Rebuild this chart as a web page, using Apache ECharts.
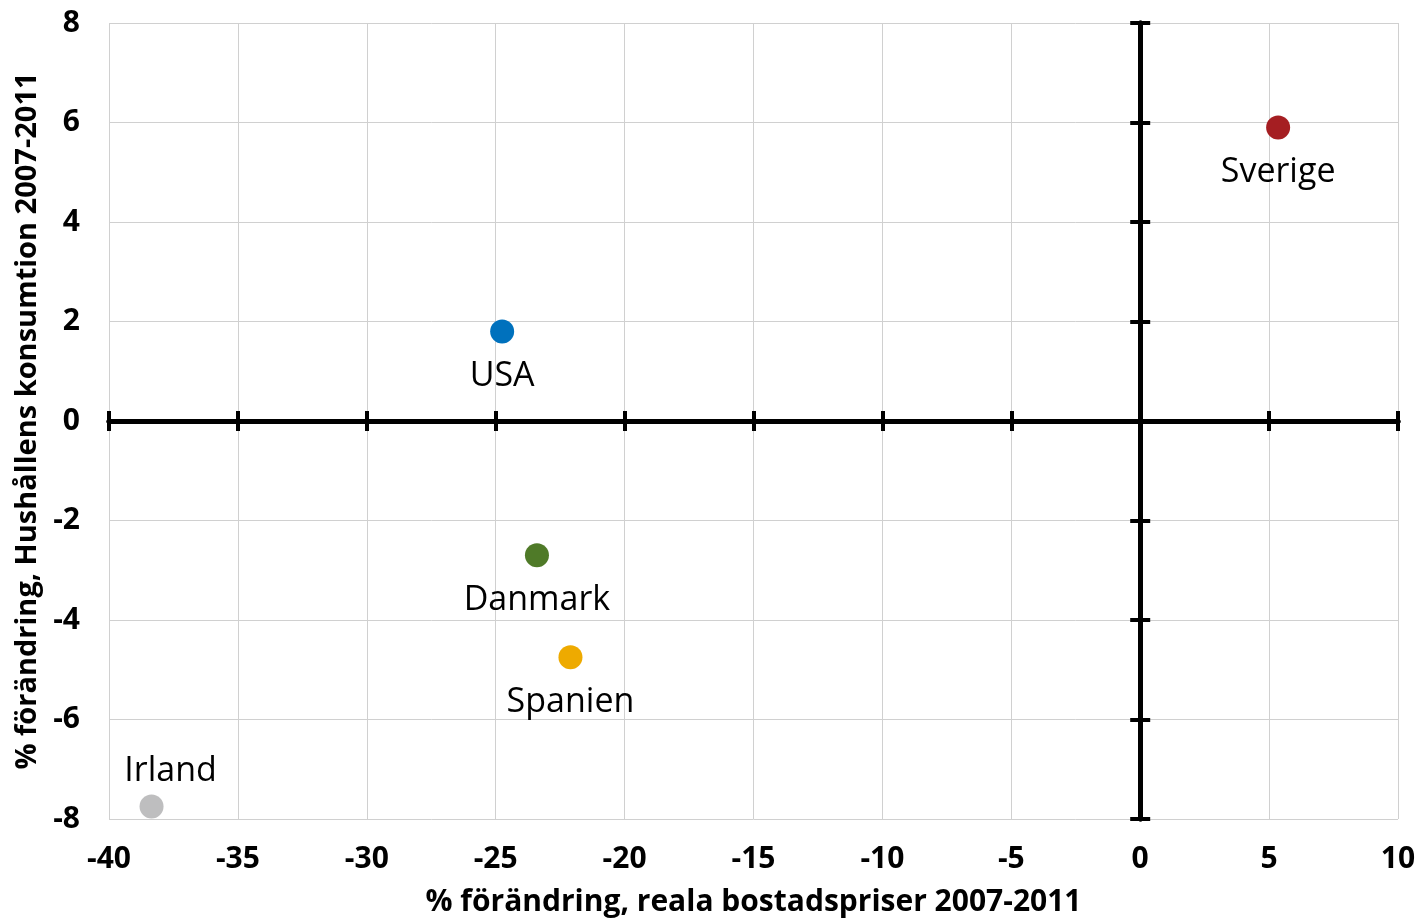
<!DOCTYPE html>
<html>
<head>
<meta charset="utf-8">
<script src="https://cdn.jsdelivr.net/npm/echarts@6/dist/echarts.min.js"></script>
<style>
html,body{margin:0;padding:0;background:#fff;}
#chart{width:1424px;height:919px;}
</style>
</head>
<body>
<div id="chart"></div>
<script>
const countries = ['Sverige', 'USA', 'Danmark', 'Spanien', 'Irland'];
const housePriceChange = [5.35, -24.75, -23.4, -22.1, -38.35];
const consumptionChange = [5.9, 1.8, -2.7, -4.75, -7.75];
const xTitle = '% förändring, reala bostadspriser 2007-2011';
const yTitle = '% förändring, Hushållens konsumtion 2007-2011';

const colors = ['#A51E22', '#0071BD', '#4F7A28', '#EEAA00', '#BEBEBF'];
const labelAbove = { 'Irland': true };

const FONT = '"Open Sans", "Noto Sans", sans-serif';
const chart = echarts.init(document.getElementById('chart'), null, { renderer: 'canvas' });

const baseX = { type: 'value', min: -40, max: 10, interval: 5, gridIndex: 0 };
const baseY = { type: 'value', min: -8, max: 8, interval: 2, gridIndex: 0 };

const zeroLine = { show: true, onZero: true, lineStyle: { color: '#000', width: 5 } };

const option = {
  animation: false,
  grid: { left: 109, right: 26, top: 23, bottom: 100, containLabel: false, outerBoundsMode: 'none' },
  xAxis: [
    Object.assign({}, baseX, {
      position: 'bottom',
      axisLine: { show: false, onZero: false },
      axisTick: { show: false },
      splitLine: { show: true, lineStyle: { color: '#D0D0D0', width: 1 } },
      axisLabel: { show: true, margin: 25, fontFamily: FONT, fontWeight: 'bold', fontSize: 30, color: '#000' },
      name: xTitle, nameLocation: 'middle', nameGap: 68,
      nameTextStyle: { fontFamily: FONT, fontWeight: 'bold', fontSize: 30, color: '#000' }
    }),
    Object.assign({}, baseX, {
      position: 'bottom',
      axisLine: zeroLine,
      axisTick: { show: true, inside: false, length: 10, lineStyle: { color: '#000', width: 4 } },
      splitLine: { show: false }, axisLabel: { show: false }
    }),
    Object.assign({}, baseX, {
      position: 'top',
      axisLine: zeroLine,
      axisTick: { show: true, inside: false, length: 10, lineStyle: { color: '#000', width: 4 } },
      splitLine: { show: false }, axisLabel: { show: false }
    })
  ],
  yAxis: [
    Object.assign({}, baseY, {
      position: 'left',
      axisLine: { show: false, onZero: false },
      axisTick: { show: false },
      splitLine: { show: true, lineStyle: { color: '#D0D0D0', width: 1 } },
      axisLabel: { show: true, margin: 29, fontFamily: FONT, fontWeight: 'bold', fontSize: 30, color: '#000' },
      name: yTitle, nameLocation: 'middle', nameGap: 66, nameRotate: 90,
      nameTextStyle: { fontFamily: FONT, fontWeight: 'bold', fontSize: 29, color: '#000' }
    }),
    Object.assign({}, baseY, {
      position: 'left',
      axisLine: zeroLine,
      axisTick: { show: true, inside: false, length: 10, lineStyle: { color: '#000', width: 4 } },
      splitLine: { show: false }, axisLabel: { show: false }
    }),
    Object.assign({}, baseY, {
      position: 'right',
      axisLine: zeroLine,
      axisTick: { show: true, inside: false, length: 10, lineStyle: { color: '#000', width: 4 } },
      splitLine: { show: false }, axisLabel: { show: false }
    })
  ],
  series: [{
    type: 'scatter',
    xAxisIndex: 0, yAxisIndex: 0,
    symbolSize: 24,
    z: 10,
    data: countries.map((c, i) => ({
      name: c,
      value: [housePriceChange[i], consumptionChange[i]],
      itemStyle: { color: colors[i], opacity: 1 },
      label: {
        show: true, formatter: c,
        position: labelAbove[c] ? 'top' : 'bottom',
        distance: labelAbove[c] ? 6 : 16,
        offset: labelAbove[c] ? [19, 0] : [0, 0],
        fontFamily: FONT, fontSize: 34, color: '#000', opacity: 1
      }
    }))
  }]
};
chart.setOption(option);
</script>
</body>
</html>
